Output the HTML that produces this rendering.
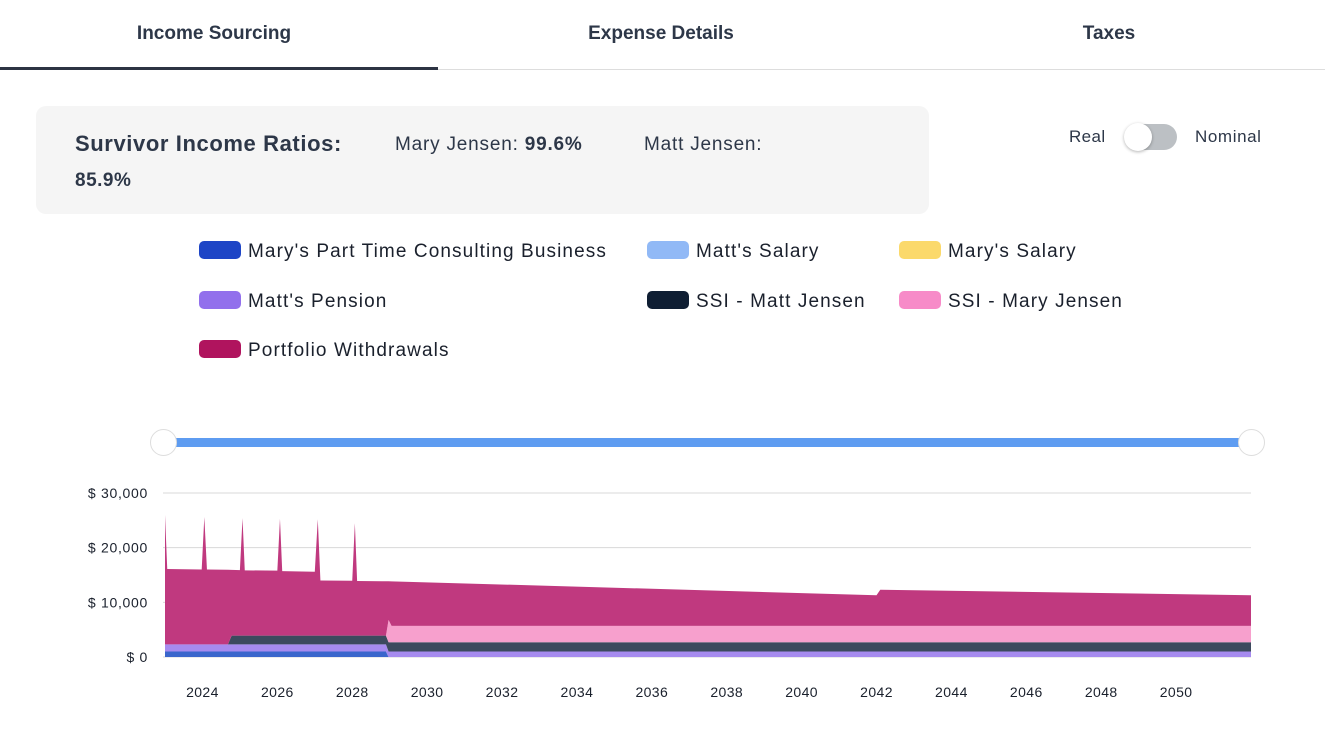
<!DOCTYPE html>
<html><head><meta charset="utf-8">
<style>
*{box-sizing:border-box;margin:0;padding:0}
body{width:1325px;height:729px;background:#fff;font-family:"Liberation Sans",sans-serif;color:#2d3748;position:relative;overflow:hidden}
.abs{position:absolute}
.tab{position:absolute;top:23px;font-size:19px;font-weight:bold;text-align:center;color:#2d3748}
.leg{position:absolute;font-size:19px;color:#1a202c;white-space:nowrap;letter-spacing:1.1px}
.leg span{display:inline-block;width:42px;height:18px;border-radius:5px;vertical-align:-2px;margin-right:7px}
</style></head><body>
<div class="tab" style="left:0;width:428px">Income Sourcing</div>
<div class="tab" style="left:442px;width:438px">Expense Details</div>
<div class="tab" style="left:890px;width:438px">Taxes</div>
<div class="abs" style="left:0;top:69px;width:1325px;height:1px;background:#ddd"></div>
<div class="abs" style="left:0;top:67px;width:438px;height:3px;background:#2d3443"></div>

<div class="abs" style="left:36px;top:106px;width:893px;height:108px;background:#f5f5f5;border-radius:10px">
  <div class="abs" style="left:39px;top:25px;font-size:22px;font-weight:bold;letter-spacing:0.6px">Survivor Income Ratios:</div>
  <div class="abs" style="left:359px;top:28px;font-size:19px;letter-spacing:0.8px">Mary Jensen: <b>99.6%</b></div>
  <div class="abs" style="left:608px;top:28px;font-size:19px;letter-spacing:0.8px">Matt Jensen:</div>
  <div class="abs" style="left:39px;top:64px;font-size:19px;font-weight:bold;letter-spacing:0.5px">85.9%</div>
</div>

<div class="abs" style="left:1069px;top:127px;font-size:17px;letter-spacing:0.4px">Real</div>
<div class="abs" style="left:1125px;top:124px;width:52px;height:26px;border-radius:13px;background:#bcc0c4">
  <div class="abs" style="left:-1px;top:-1px;width:28px;height:28px;border-radius:50%;background:#fff;box-shadow:0 1px 3px rgba(0,0,0,.3)"></div>
</div>
<div class="abs" style="left:1195px;top:127px;font-size:17px;letter-spacing:0.6px">Nominal</div>

<div class="leg" style="left:199px;top:241px"><span style="background:#1e45c6"></span>Mary's Part Time Consulting Business</div>
<div class="leg" style="left:647px;top:241px"><span style="background:#91b9f6"></span>Matt's Salary</div>
<div class="leg" style="left:899px;top:241px"><span style="background:#fbd96b"></span>Mary's Salary</div>
<div class="leg" style="left:199px;top:291px"><span style="background:#9270ec"></span>Matt's Pension</div>
<div class="leg" style="left:647px;top:291px"><span style="background:#0f1e33"></span>SSI - Matt Jensen</div>
<div class="leg" style="left:899px;top:291px"><span style="background:#f78bc8"></span>SSI - Mary Jensen</div>
<div class="leg" style="left:199px;top:340px"><span style="background:#b0145e"></span>Portfolio Withdrawals</div>

<div class="abs" style="left:163px;top:438px;width:1088px;height:9px;background:#5e9cf1"></div>
<div class="abs" style="left:150px;top:429px;width:27px;height:27px;border-radius:50%;background:#fff;border:1px solid #ddd"></div>
<div class="abs" style="left:1238px;top:429px;width:27px;height:27px;border-radius:50%;background:#fff;border:1px solid #ddd"></div>

<svg class="abs" style="left:0;top:0" width="1325" height="729" id="chart"></svg>
<script>
const years=[2023.0,2023.06,2023.98,2024.05,2024.12,2024.68,2024.78,2025.0,2025.07,2025.13,2026.0,2026.07,2026.13,2027.0,2027.08,2027.15,2028.0,2028.07,2028.13,2028.9,2028.97,2029.05,2042.0,2042.1,2052.0];
const consulting=[1000,1000,1000,1000,1000,1000,1000,1000,1000,1000,1000,1000,1000,1000,1000,1000,1000,1000,1000,1000,0,0,0,0,0];
const pension=[1300,1300,1300,1300,1300,1300,1300,1300,1300,1300,1300,1300,1300,1300,1300,1300,1300,1300,1300,1300,1000,1000,1000,1000,1000];
const ssiMatt=[0,0,0,0,0,0,1600,1600,1600,1600,1600,1600,1600,1600,1600,1600,1600,1600,1600,1600,1700,1700,1700,1700,1700];
const ssiMary=[0,0,0,0,0,0,0,0,0,0,0,0,0,0,0,0,0,0,0,0,4100,3000,3000,3000,3000];
const portfolio=[23700,13800,13700,23300,13700,13650,12030,12000,21500,11950,11900,21400,11800,11700,21300,10100,10050,20600,10000,9950,7050,8140,5600,6600,5600];
const yTicks=[0,10000,20000,30000];
const xTicks=[2024,2026,2028,2030,2032,2034,2036,2038,2040,2042,2044,2046,2048,2050];
const NS="http://www.w3.org/2000/svg";
const svg=document.getElementById('chart');
const X0=165,X1=1251,Y0=657,Y1=493;
const xs=y=>X0+(y-2023)/(2052-2023)*(X1-X0);
const ys=v=>Y0-v/30000*(Y0-Y1);
function mk(t,a){const e=document.createElementNS(NS,t);for(const k in a)e.setAttribute(k,a[k]);svg.appendChild(e);return e;}
yTicks.forEach(v=>{
  const l=mk('line',{x1:X0-2,x2:X1,y1:ys(v),y2:ys(v),stroke:'#d8d8d8','stroke-width':1});
  
  
  const t=mk('text',{x:148,y:ys(v)+5,'text-anchor':'end','font-size':14,'letter-spacing':0.7,fill:'#1a202c','font-family':'Liberation Sans, sans-serif'});
  t.textContent='$ '+v.toLocaleString('en-US');
  
  
});
xTicks.forEach(v=>{
  const t=mk('text',{x:xs(v),y:697,'text-anchor':'middle','font-size':14,'letter-spacing':0.4,fill:'#1a202c','font-family':'Liberation Sans, sans-serif'});
  t.textContent=v;
  
  
});
const layers=[[consulting,'#3a66cc','area-consulting'],[pension,'#a68bef','area-matt-pension'],[ssiMatt,'#3c4a5e','area-ssi-matt'],[ssiMary,'#f7a0cd','area-ssi-mary'],[portfolio,'#c0397f','area-portfolio']];
let base=years.map(()=>0);
layers.forEach(([vals,col,name])=>{
  const top=base.map((b,i)=>b+vals[i]);
  let d='M'+years.map((y,i)=>xs(y)+','+ys(top[i])).join(' L');
  for(let i=years.length-1;i>=0;i--)d+=' L'+xs(years[i])+','+ys(base[i]);
  const p=mk('path',{d:d+'Z',fill:col});
  
  
  base=top;
});
</script>
</body></html>
